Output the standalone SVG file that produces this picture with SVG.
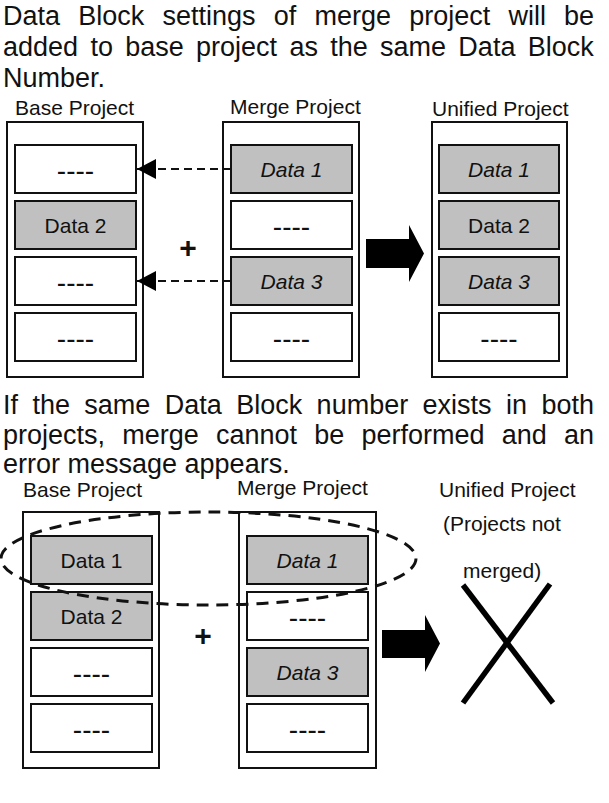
<svg xmlns="http://www.w3.org/2000/svg" width="609" height="803" viewBox="0 0 609 803">
<style>
.para{font-family:"Liberation Sans",Arial,sans-serif;font-size:27px;fill:#111}
.lbl{font-family:"Liberation Sans",Arial,sans-serif;font-size:21px;fill:#111}
.t{font-family:"Liberation Sans",Arial,sans-serif;font-size:21px;fill:#111;text-anchor:middle}
.it{font-style:italic}
.dash{font-family:"Liberation Sans",Arial,sans-serif;font-size:28px;fill:#111;text-anchor:middle}
.outer{fill:#fff;stroke:#111;stroke-width:2}
.w{fill:#fff;stroke:#111;stroke-width:2}
.g{fill:#c0c0c0;stroke:#111;stroke-width:2}
.plus{font-family:"Liberation Sans",Arial,sans-serif;font-size:30px;font-weight:bold;fill:#111;text-anchor:middle}
.conn{stroke:#111;stroke-width:1.8;stroke-dasharray:8 5;fill:none}
.big{fill:#000}
</style>
<defs>
<marker id="ah" markerWidth="20" markerHeight="20" refX="19" refY="10" orient="auto" markerUnits="userSpaceOnUse">
<path d="M0,0 L19,10 L0,20 Z" fill="#000"/>
</marker>
</defs>

<text class="para" x="3" y="25" word-spacing="10.7">Data Block settings of merge project will be</text>
<text class="para" x="3" y="56" word-spacing="4.8">added to base project as the same Data Block</text>
<text class="para" x="3" y="87">Number.</text>

<text class="lbl" x="15" y="115">Base Project</text>
<text class="lbl" x="230" y="114">Merge Project</text>
<text class="lbl" x="432" y="116">Unified Project</text>

<g id="base1">
<rect class="outer" x="7" y="122" width="136" height="255"/>
<rect class="w" x="15" y="145" width="121" height="48"/><text class="dash" x="75.5" y="180">----</text>
<rect class="g" x="15" y="201" width="121" height="48"/><text class="t" x="75.5" y="233">Data 2</text>
<rect class="w" x="15" y="257" width="121" height="48"/><text class="dash" x="75.5" y="292">----</text>
<rect class="w" x="15" y="313" width="121" height="48"/><text class="dash" x="75.5" y="348">----</text>
</g>

<g id="merge1">
<rect class="outer" x="223" y="122" width="136" height="255"/>
<rect class="g" x="231" y="145" width="121" height="48"/><text class="t it" x="291.5" y="177">Data 1</text>
<rect class="w" x="231" y="201" width="121" height="48"/><text class="dash" x="291.5" y="236">----</text>
<rect class="g" x="231" y="257" width="121" height="48"/><text class="t it" x="291.5" y="289">Data 3</text>
<rect class="w" x="231" y="313" width="121" height="48"/><text class="dash" x="291.5" y="348">----</text>
</g>

<g id="unified1">
<rect class="outer" x="432" y="122" width="135" height="255"/>
<rect class="g" x="439" y="145" width="120" height="48"/><text class="t it" x="499" y="177">Data 1</text>
<rect class="g" x="439" y="201" width="120" height="48"/><text class="t" x="499" y="233">Data 2</text>
<rect class="g" x="439" y="257" width="120" height="48"/><text class="t it" x="499" y="289">Data 3</text>
<rect class="w" x="439" y="313" width="120" height="48"/><text class="dash" x="499" y="348">----</text>
</g>

<g id="plus1"><text class="plus" x="188" y="258">+</text></g>
<g id="bigarrow1"><polygon class="big" points="366,239 409,239 409,225 424,253.5 409,282 409,268 366,268"/></g>

<g id="connectors">
<line class="conn" x1="231" y1="169" x2="137" y2="169" marker-end="url(#ah)"/>
<line class="conn" x1="231" y1="281" x2="137" y2="281" marker-end="url(#ah)"/>
</g>

<text class="para" x="3" y="414" word-spacing="6.9">If the same Data Block number exists in both</text>
<text class="para" x="3" y="444" word-spacing="9.7">projects, merge cannot be performed and an</text>
<text class="para" x="3" y="473">error message appears.</text>

<text class="lbl" x="23" y="497">Base Project</text>
<text class="lbl" x="237" y="495">Merge Project</text>
<text class="lbl" x="439" y="497">Unified Project</text>
<text class="lbl" x="443" y="531">(Projects not</text>
<text class="lbl" x="463" y="578">merged)</text>

<g id="base2">
<rect class="outer" x="23" y="512" width="136" height="256"/>
<rect class="g" x="31" y="536" width="121" height="48"/><text class="t" x="91.5" y="568">Data 1</text>
<rect class="g" x="31" y="592" width="121" height="48"/><text class="t" x="91.5" y="624">Data 2</text>
<rect class="w" x="31" y="648" width="121" height="48"/><text class="dash" x="91.5" y="683">----</text>
<rect class="w" x="31" y="704" width="121" height="48"/><text class="dash" x="91.5" y="739">----</text>
</g>

<g id="merge2">
<rect class="outer" x="239" y="512" width="137" height="256"/>
<rect class="g" x="247" y="536" width="121" height="48"/><text class="t it" x="307.5" y="568">Data 1</text>
<rect class="w" x="247" y="592" width="121" height="48"/><text class="dash" x="307.5" y="627">----</text>
<rect class="g" x="247" y="648" width="121" height="48"/><text class="t it" x="307.5" y="680">Data 3</text>
<rect class="w" x="247" y="704" width="121" height="48"/><text class="dash" x="307.5" y="739">----</text>
</g>

<g id="conflict"><ellipse cx="208.5" cy="558.5" rx="207.5" ry="46.5" fill="none" stroke="#111" stroke-width="3" stroke-dasharray="12 8"/></g>

<g id="plus2"><text class="plus" x="203" y="646">+</text></g>
<g id="bigarrow2"><polygon class="big" points="382,630 425,630 425,615 440,643.5 425,672 425,658 382,658"/></g>

<g id="cross">
<line x1="463" y1="585" x2="553" y2="703" stroke="#000" stroke-width="5.5"/>
<line x1="550" y1="584" x2="463" y2="703" stroke="#000" stroke-width="5.5"/>
</g>
</svg>
